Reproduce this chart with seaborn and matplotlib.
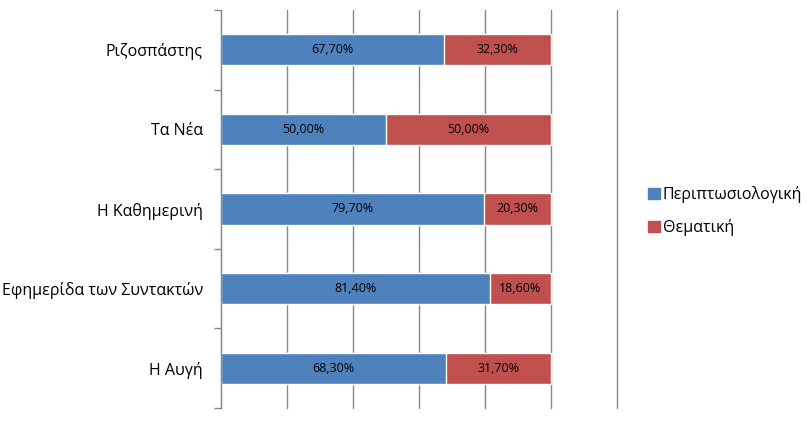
import matplotlib
matplotlib.use("Agg")
import matplotlib.pyplot as plt
import seaborn as sns
import pandas as pd
from matplotlib.patches import Patch

papers = ['Ριζοσπάστης', 'Τα Νέα', 'Η Καθημερινή', 'Εφημερίδα των Συντακτών', 'Η Αυγή']
episodic = [67.7, 50.0, 79.7, 81.4, 68.3]
thematic = [32.3, 50.0, 20.3, 18.6, 31.7]
series_names = ['Περιπτωσιολογική', 'Θεματική']

blue = '#4F81BD'
red = '#C0504D'

df = pd.DataFrame({'paper': papers, 'episodic': episodic, 'thematic': thematic})
df['total'] = df['episodic'] + df['thematic']

sns.set_style('white')
plt.rcParams['font.family'] = ['Open Sans', 'DejaVu Sans']
plt.rcParams['text.color'] = 'black'
plt.rcParams['ytick.labelcolor'] = 'black'

fig = plt.figure(figsize=(8.1, 4.23), dpi=100)
ax = fig.add_axes([221 / 810, 15 / 423, 396 / 810, 398 / 423])

# stacked: draw full length in red, then the first part in blue on top
sns.barplot(data=df, y='paper', x='total', color=red, width=0.39,
            saturation=1, ax=ax, orient='h')
sns.barplot(data=df, y='paper', x='episodic', color=blue, width=0.39,
            saturation=1, ax=ax, orient='h')

ax.set_xlim(0, 120)
ax.set_xticks(range(0, 121, 20))
ax.set_xticklabels([])
ax.tick_params(axis='x', length=0)
ax.grid(axis='x', color='#868686', linewidth=1)
for gl in ax.get_xgridlines():
    gl.set_clip_on(False)
ax.set_axisbelow(True)
ax.set_xlabel('')
ax.set_ylabel('')

ax.set_ylim(len(papers) - 0.5, -0.5)
ax.set_yticks(range(len(papers)))
ax.set_yticklabels(papers, fontsize=11.5, color='black')
ax.tick_params(axis='y', which='major', length=0, pad=13)
ax.set_yticks([i - 0.5 for i in range(len(papers) + 1)], minor=True)
ax.tick_params(axis='y', which='minor', length=5, width=1, color='#868686', left=True)

for side in ['top', 'right', 'bottom']:
    ax.spines[side].set_visible(False)
ax.spines['left'].set_color('#868686')

for i in range(len(papers)):
    e = episodic[i]
    t = thematic[i]
    ax.text(e / 2, i, f'{e:.2f}%'.replace('.', ','), ha='center', va='center', fontsize=9, color='black')
    ax.text(e + t / 2, i, f'{t:.2f}%'.replace('.', ','), ha='center', va='center', fontsize=9, color='black')

handles = [Patch(color=blue), Patch(color=red)]
fig.legend(handles, series_names, loc='upper left', bbox_to_anchor=(634 / 810, 1 - 172 / 423),
           frameon=False, fontsize=11.5, handlelength=0.7, handleheight=0.7,
           handletextpad=0.2, labelspacing=1.0)

fig.savefig('out.png', dpi=100)
